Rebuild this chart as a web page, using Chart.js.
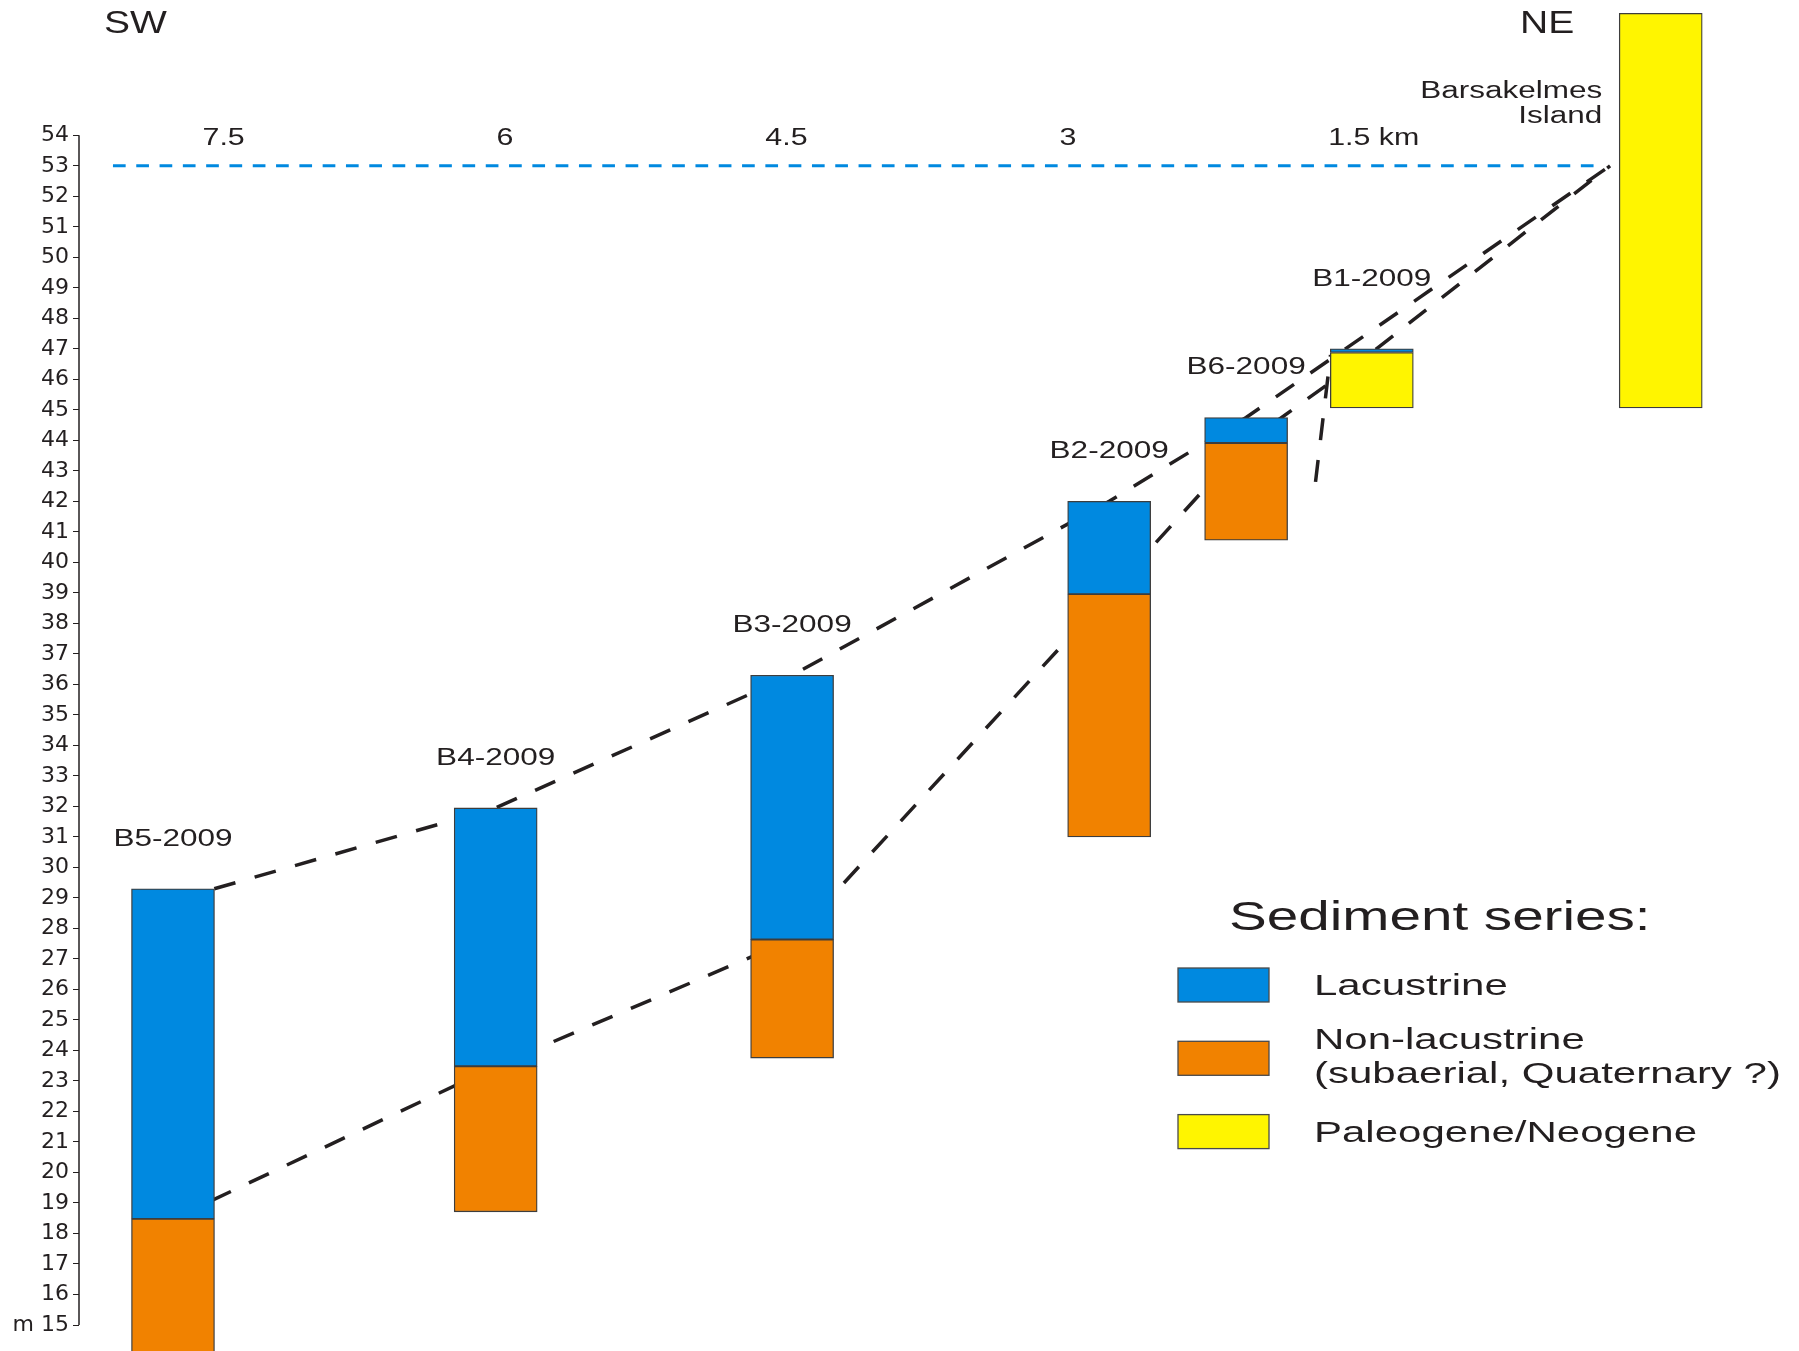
<!DOCTYPE html>
<html>
<head>
<meta charset="utf-8">
<title>Barsakelmes profile</title>
<script src="https://cdn.jsdelivr.net/npm/chart.js@4.4.1/dist/chart.umd.min.js"></script>
<style>
  html, body { margin: 0; padding: 0; background: #fff; }
  #wrap { width: 1799px; height: 1351px; }
</style>
</head>
<body>
<div id="wrap"><canvas id="profile" width="1799" height="1351"></canvas></div>
<script>
// cores, SW to NE, and their distance (km)
const cores = ['B5-2009', 'B4-2009', 'B3-2009', 'B2-2009', 'B6-2009', 'B1-2009', 'Barsakelmes Island'];
const coreKm = [7.77, 6.05, 4.47, 2.78, 2.05, 1.38, -0.16];

// sediment intervals in m, [bottom, top]; null = not present
const lacustrine = [[18.48, 29.3], [23.48, 31.95], [27.64, 36.3], [38.96, 42.0], [43.91, 44.75], [46.88, 47.0], null];
const nonLacustrine = [[14.0, 18.48], [18.71, 23.48], [23.75, 27.64], [31.0, 38.96], [40.73, 43.91], null, null];
const paleoNeogene = [null, null, null, null, null, [45.06, 46.88], [45.06, 58.0]];

const seriesNames = [['Lacustrine'], ['Non-lacustrine', '(subaerial, Quaternary ?)'], ['Paleogene/Neogene']];

// shoreline and correlation lines
const shoreKm = [8.09, 0.17];
const shoreM = [53, 53];
const topLacKm = [7.55, 6.05, 4.47, 2.78, 2.05, 0.11];
const topLacM = [29.3, 31.95, 36.3, 42.0, 44.75, 53.0];
const baseLacKm = [7.77, 6.05, 4.47, 2.78, 2.05, 1.38, 0.11];
const baseLacM = [18.48, 23.48, 27.64, 38.96, 43.91, 46.88, 53.0];
const faultKm = [1.68, 1.60];
const faultM = [42.64, 46.8];

// axis ticks
const elevTicks = [15, 16, 17, 18, 19, 20, 21, 22, 23, 24, 25, 26, 27, 28, 29, 30, 31, 32, 33, 34,
  35, 36, 37, 38, 39, 40, 41, 42, 43, 44, 45, 46, 47, 48, 49, 50, 51, 52, 53, 54];
const distTicks = [7.5, 6, 4.5, 3, 1.5];

const TEXT = '#231f20';
const FONT = '"Liberation Sans", Arial, Helvetica, sans-serif';
const BAR_W = 83;

function intervals(arr) {
    return arr.map((r, i) => r ? { x: coreKm[i], y: r } : null).filter(Boolean);
}
function path(xs, ys) {
    return xs.map((x, i) => ({ x: x, y: ys[i] }));
}

// text in the figure is drawn wide, so stretch it horizontally
function drawText(ctx, text, x, y, size, sx, align) {
    ctx.save();
    ctx.font = size + 'px ' + FONT;
    ctx.fillStyle = TEXT;
    ctx.textAlign = 'left';
    ctx.textBaseline = 'alphabetic';
    const w = ctx.measureText(text).width * sx;
    let left = x;
    if (align === 'center') left = x - w / 2;
    if (align === 'right') left = x - w;
    ctx.translate(left, y);
    ctx.scale(sx, 1);
    ctx.fillText(text, 0, 0);
    ctx.restore();
    return w;
}

const decor = {
    id: 'decor',
    afterDraw(chart) {
        const ctx = chart.ctx;
        const xs = chart.scales.x;
        const ys = chart.scales.y;
        ctx.save();

        // elevation axis line, only over the ticked range
        ctx.strokeStyle = TEXT;
        ctx.lineWidth = 1.5;
        ctx.beginPath();
        ctx.moveTo(ys.right, ys.getPixelForValue(elevTicks[elevTicks.length - 1]));
        ctx.lineTo(ys.right, ys.getPixelForValue(elevTicks[0]));
        ctx.stroke();

        // distance labels along the top
        const y54 = ys.getPixelForValue(54);
        distTicks.forEach((v, i) => {
            const px = xs.getPixelForValue(v);
            const w = drawText(ctx, String(v), px, y54 + 10, 23, 1.32, 'center');
            if (i === distTicks.length - 1) {
                drawText(ctx, ' km', px + w / 2, y54 + 10, 23, 1.32, 'left');
            }
        });

        drawText(ctx, 'SW', 104, 33, 32, 1.22, 'left');
        drawText(ctx, 'NE', 1520, 33, 32, 1.22, 'left');

        // core names above each core
        cores.forEach((name, i) => {
            const tops = [lacustrine[i], nonLacustrine[i], paleoNeogene[i]].filter(Boolean).map(r => r[1]);
            const px = xs.getPixelForValue(coreKm[i]);
            if (i === cores.length - 1) {
                const parts = name.split(' ');
                drawText(ctx, parts[0], px - BAR_W / 2 - 17, y54 - 37, 23.5, 1.34, 'right');
                drawText(ctx, parts[1], px - BAR_W / 2 - 17, y54 - 12, 23.5, 1.34, 'right');
                return;
            }
            const gap = name === 'B1-2009' ? 63 : 43;
            drawText(ctx, name, px, ys.getPixelForValue(Math.max(...tops)) - gap, 23, 1.37, 'center');
        });

        // legend
        drawText(ctx, 'Sediment series:', 1229, 930, 40, 1.415, 'left');
        const bars = chart.data.datasets.filter(d => d.type === 'bar');
        bars.forEach((d, i) => {
            const top = 968 + i * 73.3;
            ctx.fillStyle = d.backgroundColor;
            ctx.fillRect(1178, top, 91, 34);
            ctx.strokeStyle = '#4a4a4a';
            ctx.lineWidth = 1.3;
            ctx.strokeRect(1178, top, 91, 34);
            const lines = seriesNames[i];
            const mid = top + 17;
            if (lines.length === 1) {
                drawText(ctx, lines[0], 1314, mid + 10, 30, 1.4, 'left');
            } else {
                drawText(ctx, lines[0], 1314, mid - 9.5, 30, 1.4, 'left');
                drawText(ctx, lines[1], 1314, mid + 24.5, 30, 1.4, 'left');
            }
        });
        ctx.restore();
    }
};

const barStyle = {
    type: 'bar',
    borderColor: '#3d3d3d',
    borderWidth: 1.3,
    borderSkipped: false,
    barThickness: BAR_W,
    grouped: false,
    order: 1
};
const dashStyle = {
    type: 'line',
    borderColor: TEXT,
    borderWidth: 3.5,
    borderDash: [22, 20],
    pointRadius: 0,
    fill: false,
    tension: 0,
    order: 2
};

const ctx = document.getElementById('profile').getContext('2d');
new Chart(ctx, {
    type: 'bar',
    data: {
        datasets: [
            Object.assign({}, barStyle, { label: seriesNames[0].join(' '), data: intervals(lacustrine), backgroundColor: '#0089e0' }),
            Object.assign({}, barStyle, { label: seriesNames[1].join(' '), data: intervals(nonLacustrine), backgroundColor: '#f18200' }),
            Object.assign({}, barStyle, { label: seriesNames[2].join(' '), data: intervals(paleoNeogene), backgroundColor: '#fff500' }),
            Object.assign({}, dashStyle, { label: 'Top of lacustrine', data: path(topLacKm, topLacM) }),
            Object.assign({}, dashStyle, { label: 'Base of lacustrine', data: path(baseLacKm, baseLacM) }),
            Object.assign({}, dashStyle, { label: 'Fault', data: path(faultKm, faultM) }),
            Object.assign({}, dashStyle, { label: 'Shoreline 53 m', data: path(shoreKm, shoreM), borderColor: '#0089e0', borderWidth: 3, borderDash: [12.7, 10.6] })
        ]
    },
    options: {
        responsive: false,
        animation: false,
        devicePixelRatio: 1,
        layout: { padding: 0, autoPadding: false },
        plugins: {
            legend: { display: false },
            tooltip: { enabled: false }
        },
        scales: {
            x: {
                type: 'linear',
                reverse: true,
                min: -0.897,
                max: 8.271,
                offset: false,
                display: false
            },
            y: {
                type: 'linear',
                min: 14.148,
                max: 58.435,
                afterBuildTicks: scale => {
                    scale.ticks = elevTicks.map(v => ({ value: v }));
                },
                afterFit: scale => {
                    scale.width = 79;
                    scale.paddingTop = 0;
                    scale.paddingBottom = 0;
                },
                border: { display: false },
                grid: {
                    drawOnChartArea: false,
                    drawTicks: true,
                    tickLength: 6,
                    color: TEXT,
                    lineWidth: 1
                },
                ticks: {
                    padding: 4,
                    color: TEXT,
                    font: { family: '"DejaVu Sans", sans-serif', size: 22 },
                    callback: v => v === 15 ? 'm 15' : String(v)
                }
            }
        }
    },
    plugins: [decor]
});
</script>
</body>
</html>
